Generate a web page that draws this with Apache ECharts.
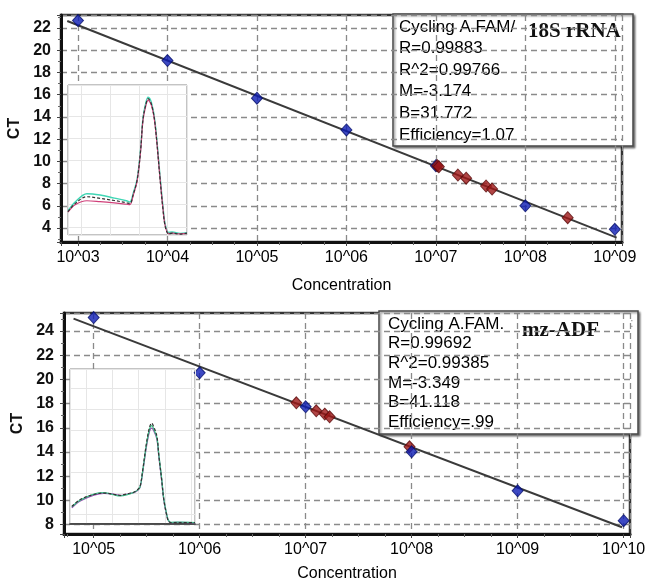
<!DOCTYPE html>
<html>
<head>
<meta charset="utf-8">
<script src="https://cdn.jsdelivr.net/npm/echarts@6/dist/echarts.min.js"></script>
<style>
html,body{margin:0;padding:0;background:#fff;}
#chart{width:646px;height:581px;}
</style>
</head>
<body>
<div id="chart"></div>
<script>
// ---------- Top chart (18S rRNA) ----------
// x values are log10(concentration)
const topStdLogConc = [3, 4, 5, 6, 7, 8, 9];
const topStdCT      = [22.67, 19.07, 15.68, 12.83, 9.61, 6.00, 3.88];
const topUnkLogConc = [7.015, 7.033, 7.246, 7.338, 7.561, 7.628, 8.473];
const topUnkCT      = [9.61, 9.52, 8.77, 8.48, 7.78, 7.51, 4.93];
const topFitLogConc = [2.88, 9.02];
const topFitCT      = [22.63, 3.14];
const topStats = ['Cycling A.FAM/', 'R=0.99883', 'R^2=0.99766', 'M=-3.174', 'B=31.772', 'Efficiency=1.07'];
const topGene = '18S rRNA';
// melt-curve inset (temperature, -dF/dT)
const topMeltT     = [72.6, 73.85, 75.9, 78.2, 80.7, 82.8, 83.4, 84.0, 84.7, 85.3, 85.7, 86.2, 86.6, 87.2, 87.8, 88.7, 89.2, 89.6, 90.2, 90.8, 92.2, 93.4];
const topMeltBlack = [0.68, 1.05, 1.36, 1.29, 1.19, 1.09, 1.05, 1.46, 2.14, 3.50, 4.86, 5.54, 5.81, 5.54, 4.69, 2.14, 0.78, 0.00, -0.33, -0.29, -0.33, -0.29];
const topMeltPink  = [0.66, 1.00, 1.18, 1.14, 1.08, 1.02, 1.00, 1.42, 2.10, 3.44, 4.80, 5.48, 5.74, 5.50, 4.66, 2.16, 0.82, 0.04, -0.31, -0.29, -0.32, -0.30];
const topMeltCyan  = [0.72, 1.12, 1.50, 1.44, 1.30, 1.18, 1.12, 1.52, 2.20, 3.56, 4.92, 5.62, 5.88, 5.62, 4.78, 2.26, 0.92, 0.10, -0.26, -0.24, -0.30, -0.27];

// ---------- Bottom chart (mz-ADF) ----------
const botStdLogConc = [5, 6, 7, 8, 9, 10];
const botStdCT      = [25.10, 20.54, 17.73, 14.02, 10.80, 8.33];
const botUnkLogConc = [6.912, 7.10, 7.18, 7.226, 7.98];
const botUnkCT      = [18.06, 17.40, 17.13, 16.91, 14.43];
const botFitLogConc = [4.81, 9.985];
const botFitCT      = [25.02, 7.79];
const botStats = ['Cycling A.FAM.', 'R=0.99692', 'R^2=0.99385', 'M=-3.349', 'B=41.118', 'Efficiency=.99'];
const botGene = 'mz-ADF';
const botMeltT      = [72.3, 73.9, 76.5, 78.4, 80.0, 81.5, 82.9, 84.1, 84.8, 85.3, 85.8, 86.5, 87.1, 87.5, 87.9, 88.5, 88.85, 89.4, 89.8, 90.4, 90.75, 91.3, 92.9, 95.75];
const botMeltBlack  = [0.36, 0.69, 0.93, 1.00, 0.95, 0.89, 0.97, 1.04, 1.16, 1.32, 2.11, 3.37, 4.16, 4.34, 4.16, 3.71, 2.83, 1.64, 0.69, -0.11, -0.36, -0.42, -0.41, -0.42];
const botMeltPurple = [0.30, 0.62, 0.90, 0.98, 0.96, 0.88, 0.95, 1.02, 1.12, 1.28, 2.02, 3.22, 3.96, 4.10, 3.98, 3.58, 2.78, 1.62, 0.70, -0.08, -0.34, -0.41, -0.40, -0.42];
const botMeltGreen  = [0.34, 0.66, 0.95, 1.02, 0.94, 0.86, 0.92, 1.03, 1.14, 1.30, 2.06, 3.30, 4.06, 4.22, 4.06, 3.64, 2.86, 1.70, 0.74, -0.06, -0.33, -0.40, -0.39, -0.41];

const pair = (xs, ys) => xs.map((x, i) => [x, ys[i]]);
const FONT = 'Liberation Sans, Arial, sans-serif';
const SERIF = 'Liberation Serif, Times New Roman, serif';

const expLabel = v => {
  const r = Math.round(v);
  if (Math.abs(v - r) > 1e-6) return '';
  return '10^' + String(r).padStart(2, '0');
};
const intLabel = v => {
  const r = Math.round(v);
  if (Math.abs(v - r) > 1e-6) return '';
  return String(r);
};

function mainX(gridIndex, min, max, nameGap) {
  return {
    type: 'value', gridIndex, min, max, splitNumber: 6,
    name: 'Concentration', nameLocation: 'middle', nameGap,
    nameTextStyle: { fontFamily: FONT, fontSize: 16, color: '#000' },
    axisLine: { show: true, onZero: false, lineStyle: { color: '#111', width: 3 } },
    axisTick: { show: true, length: 4, lineStyle: { color: '#444' } },
    minorTick: { show: true, splitNumber: 4, length: 3, lineStyle: { color: '#666' } },
    axisLabel: { formatter: expLabel, fontFamily: FONT, fontSize: 16, color: '#000', margin: 8 },
    splitLine: { show: true, lineStyle: { color: '#8a8a8a', width: 1.3, type: [6, 4] } },
    z: 0
  };
}
function mainY(gridIndex, min, max, splitNumber) {
  return {
    type: 'value', gridIndex, min, max, splitNumber,
    name: 'CT', nameLocation: 'middle', nameGap: 33,
    nameTextStyle: { fontFamily: FONT, fontSize: 16, fontWeight: 'bold', color: '#111' },
    axisLine: { show: true, onZero: false, lineStyle: { color: '#111', width: 3 } },
    axisTick: { show: true, length: 4, lineStyle: { color: '#444' } },
    minorTick: { show: true, splitNumber: 2, length: 3, lineStyle: { color: '#666' } },
    axisLabel: { formatter: intLabel, fontFamily: FONT, fontSize: 16, fontWeight: 'bold', color: '#111', margin: 10 },
    splitLine: { show: true, lineStyle: { color: '#8a8a8a', width: 1.3, type: [6, 4] } },
    z: 0
  };
}
function insetX(gridIndex, min, max, splitNumber, showLine) {
  return {
    type: 'value', gridIndex, min, max, splitNumber,
    axisLine: { show: showLine, onZero: false, lineStyle: { color: '#222', width: 1.5 } },
    axisTick: { show: false }, axisLabel: { show: false },
    splitLine: { show: true, lineStyle: { color: '#e6e6e6', width: 1 } },
    z: 6
  };
}
function insetY(gridIndex, min, max, splitNumber) {
  return {
    type: 'value', gridIndex, min, max, splitNumber,
    axisLine: { show: false }, axisTick: { show: false }, axisLabel: { show: false },
    splitLine: { show: true, lineStyle: { color: '#e6e6e6', width: 1 } },
    z: 6
  };
}
function melt(xIdx, xs, ys, color, width, type) {
  return {
    type: 'line', xAxisIndex: xIdx, yAxisIndex: xIdx, data: pair(xs, ys),
    showSymbol: false, smooth: 0.35, z: 7,
    lineStyle: { color, width, type: type || 'solid' }, silent: true, animation: false
  };
}
function fit(idx, xs, ys) {
  return {
    type: 'line', xAxisIndex: idx, yAxisIndex: idx, data: pair(xs, ys),
    showSymbol: false, z: 3, animation: false,
    lineStyle: { color: '#3a3a3a', width: 2 }
  };
}
function pts(idx, xs, ys, color, border, z) {
  return {
    type: 'scatter', xAxisIndex: idx, yAxisIndex: idx, data: pair(xs, ys),
    symbol: 'diamond', symbolSize: [11, 12], z, animation: false,
    itemStyle: { color, borderColor: border, borderWidth: 1 }
  };
}
function statBox(x, y, w, h, lines, lineH, tx, gene, gx, gy) {
  const children = [{
    type: 'rect', shape: { x, y, width: w, height: h },
    style: { fill: '#fff', stroke: '#4a4a4a', lineWidth: 1.5,
      shadowBlur: 2, shadowOffsetX: 1.5, shadowOffsetY: 1.5, shadowColor: 'rgba(0,0,0,0.45)' }
  }];
  lines.forEach((t, i) => {
    children.push({ type: 'text', x: tx, y: y + 13 + i * lineH,
      style: { text: t, font: '17px ' + FONT, fill: '#000', verticalAlign: 'middle' } });
  });
  children.push({ type: 'text', x: gx, y: gy,
    style: { text: gene, font: 'bold 21px ' + SERIF, fill: '#111', verticalAlign: 'middle' } });
  return { type: 'group', z: 100, children };
}

const chart = echarts.init(document.getElementById('chart'), null, { renderer: 'canvas' });
chart.setOption({
  backgroundColor: '#fff',
  animation: false,
  grid: [
    { left: 61, top: 15, width: 561, height: 227, show: true, borderColor: '#333', borderWidth: 2.5, backgroundColor: '#fff', outerBoundsMode: 'none', z: 0 },
    { left: 68, top: 85, width: 119, height: 150, show: true, borderColor: '#888', borderWidth: 1, backgroundColor: '#fff', outerBoundsMode: 'none', z: 5 },
    { left: 64, top: 313, width: 566, height: 221, show: true, borderColor: '#333', borderWidth: 2.5, backgroundColor: '#fff', outerBoundsMode: 'none', z: 0 },
    { left: 70, top: 369, width: 125, height: 155, show: true, borderColor: '#888', borderWidth: 1, backgroundColor: '#fff', outerBoundsMode: 'none', z: 5 }
  ],
  xAxis: [
    mainX(0, 2.81, 9.08, 36),
    insetX(1, 72.6, 93.4, 4, false),
    mainX(2, 4.72, 10.06, 32),
    insetX(3, 71.95, 95.75, 5, true)
  ],
  yAxis: [
    mainY(0, 2.74, 23.17, 10),
    insetY(1, -0.374, 6.43, 7),
    mainY(2, 7.23, 25.48, 9),
    insetY(3, -0.48, 6.93, 7)
  ],
  series: [
    fit(0, topFitLogConc, topFitCT),
    pts(0, topStdLogConc, topStdCT, '#0c1cb4', '#06106a', 4),
    pts(0, topUnkLogConc, topUnkCT, '#9e1616', '#5a0a0a', 5),
    melt(1, topMeltT, topMeltCyan, '#3fd6b4', 1.4),
    melt(1, topMeltT, topMeltPink, '#d0407a', 1.2),
    melt(1, topMeltT, topMeltBlack, '#333', 1.2, [3, 2]),
    fit(2, botFitLogConc, botFitCT),
    pts(2, botUnkLogConc, botUnkCT, '#9e1616', '#5a0a0a', 4),
    pts(2, botStdLogConc, botStdCT, '#0c1cb4', '#06106a', 5),
    melt(3, botMeltT, botMeltPurple, '#9a4ab0', 1.3),
    melt(3, botMeltT, botMeltGreen, '#3fc08a', 1.3),
    melt(3, botMeltT, botMeltBlack, '#333', 1.2, [3, 2])
  ],
  graphic: [
    statBox(393, 14, 240, 132, topStats, 21.6, 399, topGene, 528, 32),
    statBox(379, 311, 259, 123, botStats, 19.7, 388, botGene, 522, 331),
    { type: 'text', z: 100, x: 630, y: 323, style: { text: ':', font: '13px ' + FONT, fill: '#999', verticalAlign: 'middle' } }
  ]
});
</script>
</body>
</html>
